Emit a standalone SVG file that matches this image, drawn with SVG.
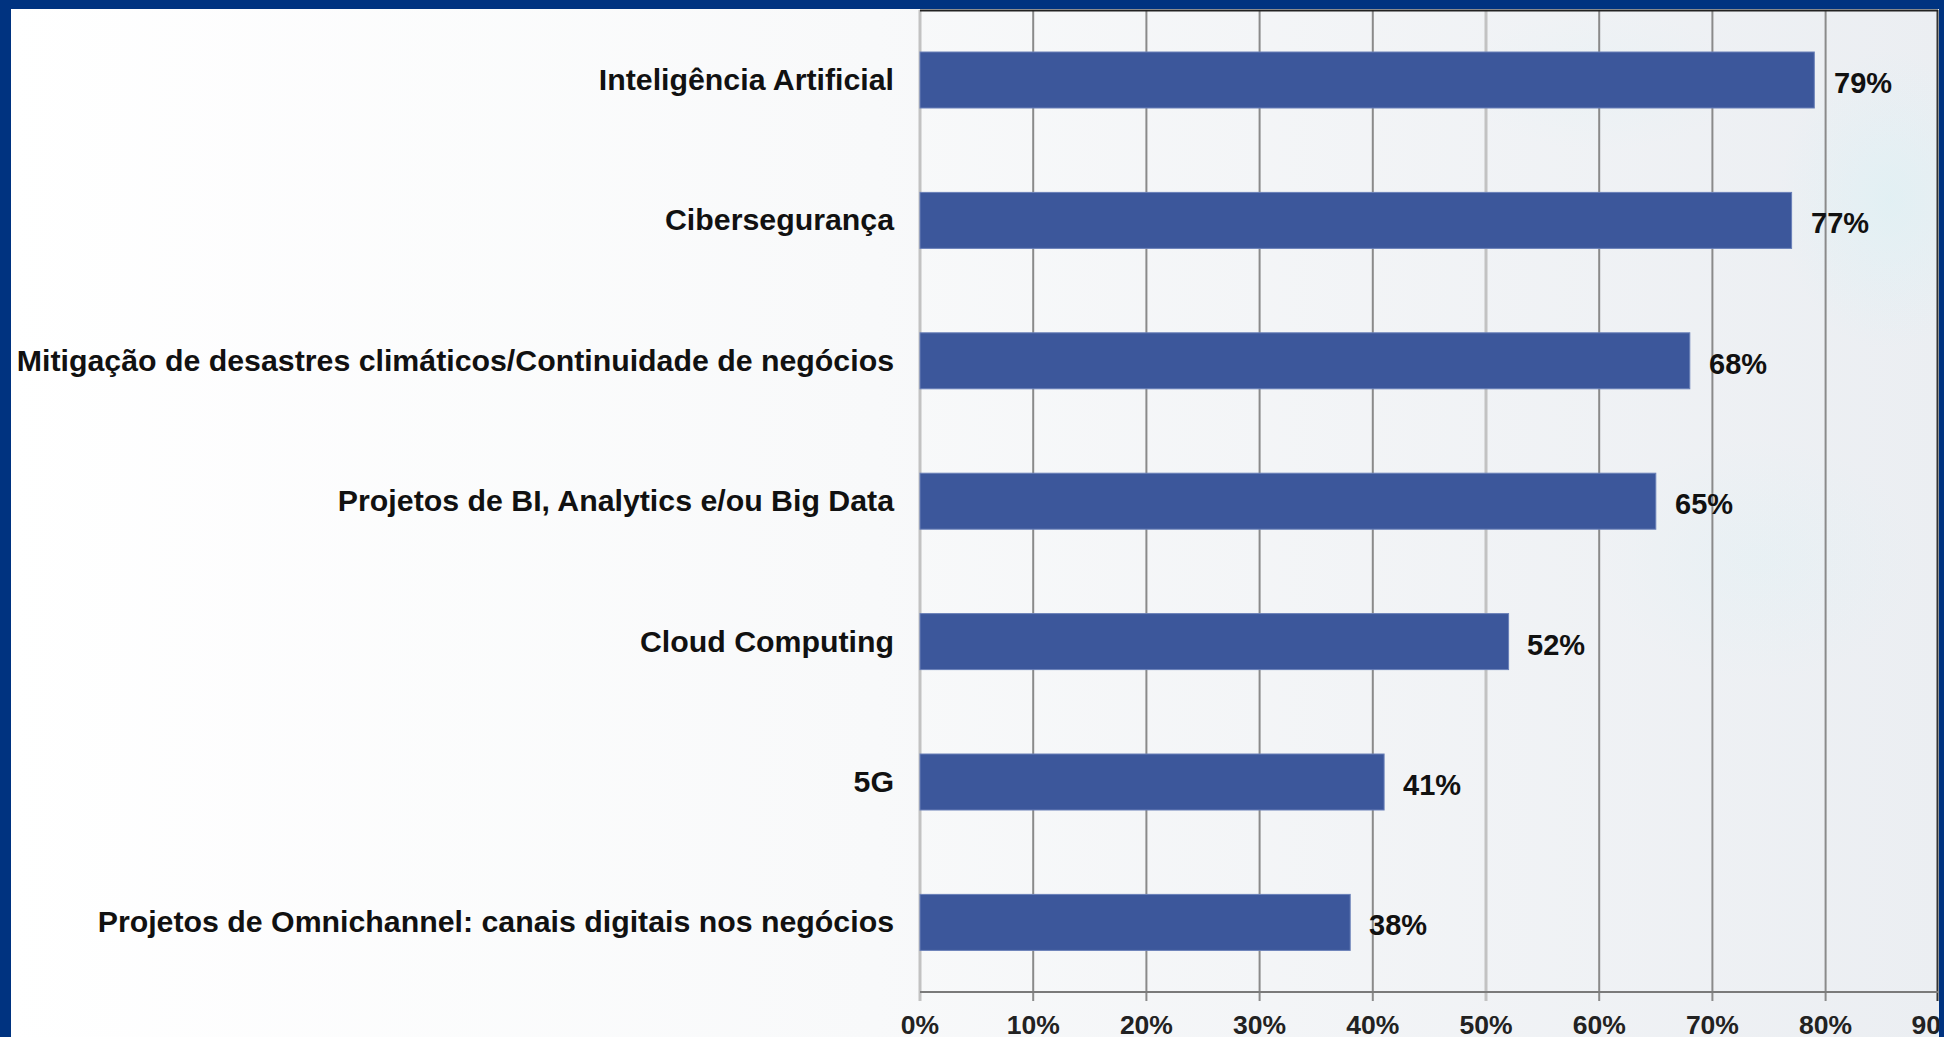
<svg xmlns="http://www.w3.org/2000/svg" width="1944" height="1037" viewBox="0 0 1944 1037">
  <defs>
    <linearGradient id="bg" x1="0" y1="0" x2="1" y2="0">
      <stop offset="0" stop-color="#ffffff"/>
      <stop offset="0.45" stop-color="#f8f9fa"/>
      <stop offset="1" stop-color="#ebeef2"/>
    </linearGradient>
    <radialGradient id="glow" cx="0.5" cy="0.5" r="0.5">
      <stop offset="0" stop-color="#d8f1f5" stop-opacity="0.5"/>
      <stop offset="1" stop-color="#d8f1f5" stop-opacity="0"/>
    </radialGradient>
    <style>
      .cat { font-family: "Liberation Sans", Arial, sans-serif; font-weight: bold; font-size: 30.3px; fill: #111; text-anchor: end; }
      .val { font-family: "Liberation Sans", Arial, sans-serif; font-weight: bold; font-size: 29px; fill: #111; }
      .tick { font-family: "Liberation Sans", Arial, sans-serif; font-weight: bold; font-size: 26.5px; fill: #222; text-anchor: middle; }
      .bar { fill: #3c579b; stroke: #6a80b8; stroke-width: 1; }
      .grid { stroke: #8a8a8a; stroke-width: 2; }
      .gridl { stroke: #c2c2c2; stroke-width: 3; }
      .border { fill: #003380; }
    </style>
  </defs>

  <rect x="0" y="0" width="1944" height="1037" fill="url(#bg)"/>
  <g id="background-glows">
    <ellipse cx="1890" cy="200" rx="110" ry="150" fill="url(#glow)"/>
    <ellipse cx="1760" cy="560" rx="160" ry="120" fill="url(#glow)" opacity="0.5"/>
    <ellipse cx="1600" cy="80" rx="140" ry="70" fill="url(#glow)" opacity="0.4"/>
  </g>

  <g id="grid">
    <line class="gridl" x1="920" y1="10" x2="920" y2="1001"/>
    <line class="grid" x1="1033.2" y1="10" x2="1033.2" y2="1001"/>
    <line class="grid" x1="1146.4" y1="10" x2="1146.4" y2="1001"/>
    <line class="grid" x1="1259.6" y1="10" x2="1259.6" y2="1001"/>
    <line class="grid" x1="1372.8" y1="10" x2="1372.8" y2="1001"/>
    <line class="gridl" x1="1486" y1="10" x2="1486" y2="1001"/>
    <line class="grid" x1="1599.2" y1="10" x2="1599.2" y2="1001"/>
    <line class="grid" x1="1712.4" y1="10" x2="1712.4" y2="1001"/>
    <line class="grid" x1="1825.6" y1="10" x2="1825.6" y2="1001"/>
    <line x1="1937.5" y1="10" x2="1937.5" y2="1001" stroke="#333" stroke-width="2"/>
    <line x1="920" y1="10.5" x2="1938" y2="10.5" stroke="#222" stroke-width="2"/>
    <line x1="920" y1="992" x2="1938" y2="992" stroke="#7a7a7a" stroke-width="2"/>
  </g>

  <g id="bar-ia">
    <rect class="bar" x="920" y="52" width="894.3" height="56"/>
    <text class="cat" x="894" y="90">Inteligência Artificial</text>
    <text class="val" x="1834" y="93">79%</text>
  </g>
  <g id="bar-ciber">
    <rect class="bar" x="920" y="192.4" width="871.6" height="56"/>
    <text class="cat" x="894" y="230.4">Cibersegurança</text>
    <text class="val" x="1811" y="233.4">77%</text>
  </g>
  <g id="bar-mitigacao">
    <rect class="bar" x="920" y="332.8" width="769.8" height="56"/>
    <text class="cat" x="894" y="370.8">Mitigação de desastres climáticos/Continuidade de negócios</text>
    <text class="val" x="1709" y="373.8">68%</text>
  </g>
  <g id="bar-bi">
    <rect class="bar" x="920" y="473.2" width="735.8" height="56"/>
    <text class="cat" x="894" y="511.2">Projetos de BI, Analytics e/ou Big Data</text>
    <text class="val" x="1675" y="514.2">65%</text>
  </g>
  <g id="bar-cloud">
    <rect class="bar" x="920" y="613.6" width="588.6" height="56"/>
    <text class="cat" x="894" y="651.6">Cloud Computing</text>
    <text class="val" x="1527" y="654.6">52%</text>
  </g>
  <g id="bar-5g">
    <rect class="bar" x="920" y="754" width="464.1" height="56"/>
    <text class="cat" x="894" y="792">5G</text>
    <text class="val" x="1403" y="795">41%</text>
  </g>
  <g id="bar-omni">
    <rect class="bar" x="920" y="894.4" width="430.2" height="56"/>
    <text class="cat" x="894" y="932.4">Projetos de Omnichannel: canais digitais nos negócios</text>
    <text class="val" x="1369" y="935.4">38%</text>
  </g>

  <g id="x-axis-labels">
    <text class="tick" x="920" y="1034">0%</text>
    <text class="tick" x="1033.2" y="1034">10%</text>
    <text class="tick" x="1146.4" y="1034">20%</text>
    <text class="tick" x="1259.6" y="1034">30%</text>
    <text class="tick" x="1372.8" y="1034">40%</text>
    <text class="tick" x="1486" y="1034">50%</text>
    <text class="tick" x="1599.2" y="1034">60%</text>
    <text class="tick" x="1712.4" y="1034">70%</text>
    <text class="tick" x="1825.6" y="1034">80%</text>
    <text class="tick" x="1938" y="1034">90%</text>
  </g>

  <g id="frame">
    <rect class="border" x="0" y="0" width="1944" height="9"/>
    <rect class="border" x="0" y="0" width="11" height="1037"/>
    <rect class="border" x="1939" y="0" width="5" height="1037"/>
  </g>
</svg>
